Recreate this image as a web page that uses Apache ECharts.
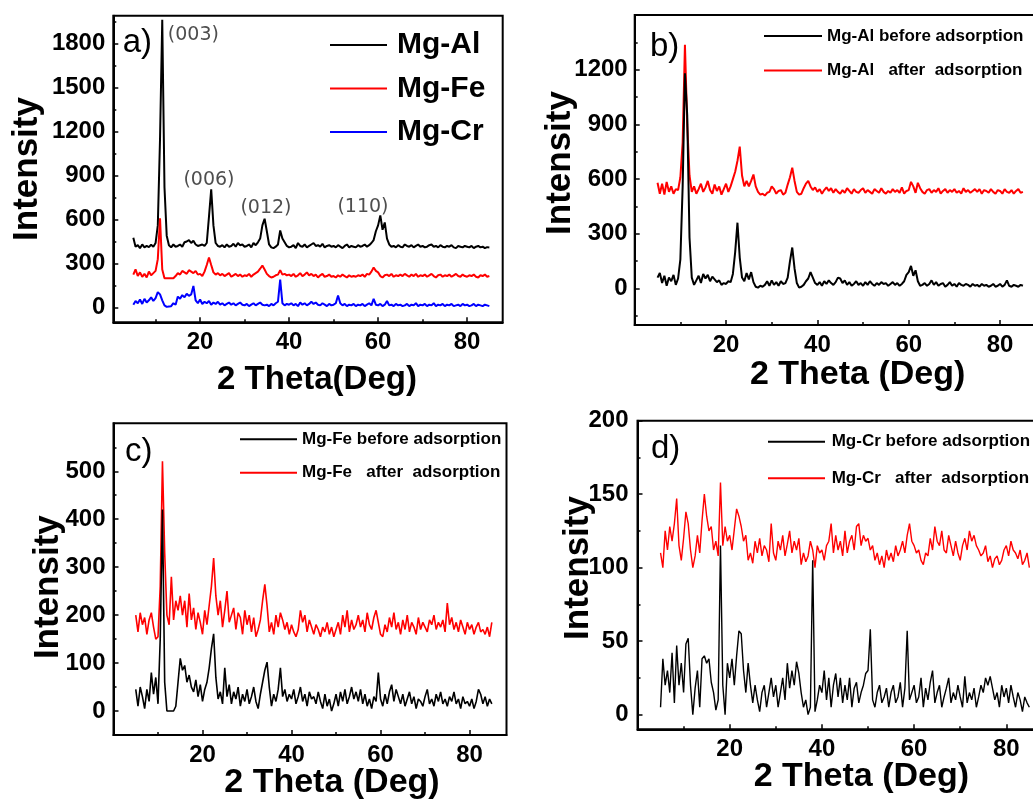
<!DOCTYPE html>
<html>
<head>
<meta charset="utf-8">
<script src="https://cdn.jsdelivr.net/npm/echarts@6/dist/echarts.min.js"></script>
<style>
html,body{margin:0;padding:0;background:#fff;}
#c{width:1033px;height:800px;}
</style>
</head>
<body>
<div id="c"></div>
<script>
// ---------- DATA ----------
const twoTheta = [
5,5.5,6,6.5,7,7.5,8,8.5,9,9.5,
10,10.5,11,11.5,12,12.5,13,13.5,14,14.5,
15,15.5,16,16.5,17,17.5,18,18.5,19,19.5,
20,20.5,21,21.5,22,22.5,23,23.5,24,24.5,
25,25.5,26,26.5,27,27.5,28,28.5,29,29.5,
30,30.5,31,31.5,32,32.5,33,33.5,34,34.5,
35,35.5,36,36.5,37,37.5,38,38.5,39,39.5,
40,40.5,41,41.5,42,42.5,43,43.5,44,44.5,
45,45.5,46,46.5,47,47.5,48,48.5,49,49.5,
50,50.5,51,51.5,52,52.5,53,53.5,54,54.5,
55,55.5,56,56.5,57,57.5,58,58.5,59,59.5,
60,60.5,61,61.5,62,62.5,63,63.5,64,64.5,
65,65.5,66,66.5,67,67.5,68,68.5,69,69.5,
70,70.5,71,71.5,72,72.5,73,73.5,74,74.5,
75,75.5,76,76.5,77,77.5,78,78.5,79,79.5,
80,80.5,81,81.5,82,82.5,83,83.5,84,84.5,
85];

// panel a
const aMgAl = [
475,415,425,405,430,410,420,412,428,415,
440,560,1150,1960,820,490,425,410,430,415,
420,430,415,445,450,460,440,455,430,420,
425,430,420,440,620,805,560,440,420,415,
425,410,430,415,420,435,415,440,425,430,
415,420,430,410,440,425,445,470,560,605,
520,430,410,405,415,430,525,470,445,420,
410,415,425,405,440,420,415,430,410,420,
430,440,420,425,415,435,410,420,425,415,
420,410,425,415,405,420,430,410,420,415,
410,425,415,420,430,415,425,440,460,520,
560,628,530,580,470,430,415,420,410,425,
415,410,430,420,415,425,410,420,430,415,
420,410,415,425,430,415,420,410,425,415,
410,420,415,425,410,405,420,415,410,420,
415,410,420,405,415,420,410,415,405,412,
410];
const aMgFe = [
225,260,215,240,210,230,205,245,220,235,
250,330,609,260,200,200,200,200,200,215,
235,225,250,240,230,255,245,235,250,225,
230,215,245,290,341,290,240,225,235,220,
230,215,225,235,210,220,230,215,225,210,
220,215,230,210,225,235,245,265,287,260,
230,215,205,210,220,225,255,225,230,220,
225,215,230,210,220,235,215,225,240,220,
230,215,225,205,220,230,210,215,225,210,
215,205,220,210,225,215,205,220,210,215,
210,220,215,225,210,230,225,245,273,250,
240,215,205,220,225,215,230,210,220,215,
225,215,230,220,210,225,215,230,210,220,
215,225,210,220,230,215,205,220,225,210,
220,215,225,210,220,230,215,210,225,215,
210,220,215,225,210,205,220,215,225,210,
215];
const aMgCr = [
20,45,30,55,25,60,35,50,70,45,
65,105,90,50,15,5,8,10,30,20,
75,60,85,70,95,80,90,148,50,30,
55,25,40,30,45,20,35,25,40,20,
30,15,25,35,20,30,15,25,35,20,
15,25,10,20,30,15,25,35,20,15,
20,10,25,15,30,40,191,30,15,25,
20,30,15,25,10,35,20,30,15,25,
40,25,35,20,15,30,20,10,25,15,
20,30,82,30,15,25,10,20,15,25,
10,20,15,25,10,20,30,15,60,20,
15,25,10,20,45,15,20,10,25,15,
20,10,15,25,10,20,15,30,10,20,
15,25,10,20,15,30,10,20,15,25,
10,20,15,25,10,15,20,10,25,15,
20,10,15,25,10,20,15,10,20,15,
10];
const hklLabels = ['(003)','(006)','(012)','(110)'];
const hklX = [18.5, 22.0, 34.8, 56.6];
const hklY = [1856, 868, 679, 688];

// panel b
const bBefore = [
60,85,30,70,15,60,40,75,20,55,
160,560,1180,950,280,60,20,45,70,30,
80,55,75,40,65,50,35,45,20,30,
25,40,35,80,200,361,170,60,40,85,
50,90,35,10,5,15,10,20,40,15,
45,20,35,15,40,25,30,60,150,225,
110,30,5,10,20,40,55,90,60,30,
20,35,15,40,25,45,30,20,35,60,
55,30,45,20,35,15,25,40,20,30,
15,35,20,40,25,15,30,20,35,25,
30,15,25,35,20,30,15,25,40,75,
90,124,70,100,40,15,20,30,15,25,
45,20,35,15,25,30,10,20,35,15,
25,10,30,20,15,25,20,10,25,15,
20,10,25,15,20,10,15,25,10,15,
25,10,20,45,15,10,20,15,10,20,
15];
const bAfter = [
580,520,575,515,585,530,560,520,545,540,
610,800,1337,900,620,530,560,520,545,575,
530,555,590,540,520,570,535,560,515,545,
575,530,560,600,640,700,778,620,560,590,
560,590,625,560,530,515,520,510,525,530,
560,545,520,535,540,515,525,570,610,663,
590,530,515,520,550,575,590,560,540,555,
530,545,520,540,555,535,550,525,545,530,
520,540,525,550,535,520,545,530,525,540,
550,525,540,530,520,545,535,525,550,530,
520,535,525,545,530,540,525,555,520,535,
540,585,560,525,580,550,530,520,540,545,
525,540,530,550,520,535,545,525,540,530,
545,525,535,520,550,530,540,525,535,545,
530,545,520,540,535,525,545,530,520,540,
535,520,545,530,525,540,520,535,545,525,
530];

// panel c
const cBefore = [
45,10,50,30,5,45,20,80,35,70,
15,150,420,60,0,0,0,0,10,60,
110,85,95,60,75,50,40,65,30,55,
20,45,60,90,130,161,70,25,40,15,
90,30,55,15,40,25,50,10,35,20,
45,15,30,50,20,5,35,60,85,102,
50,10,35,20,45,90,30,45,20,35,
25,45,15,30,50,20,35,10,40,25,
30,15,40,20,5,35,10,25,0,15,
35,10,40,20,45,15,30,50,25,40,
20,45,15,35,10,25,5,30,20,80,
25,10,35,15,40,55,20,45,30,15,
35,10,25,40,15,30,5,25,20,10,
30,45,15,25,10,35,20,40,15,25,
10,30,20,40,15,25,5,30,15,20,
10,25,5,20,45,35,15,30,10,25,
15];
const cAfter = [
200,165,205,180,195,160,190,205,175,150,
155,260,521,330,200,180,280,190,230,210,
240,200,230,175,245,190,215,170,205,185,
160,210,180,220,260,319,240,200,230,175,
210,250,185,200,215,170,205,195,160,210,
180,200,165,195,155,170,190,230,264,220,
165,185,160,200,175,205,190,170,185,160,
180,165,155,170,210,185,200,165,190,175,
160,180,170,155,175,165,185,160,175,155,
170,185,160,200,175,210,165,190,170,180,
200,175,190,165,205,180,170,195,210,185,
160,155,180,165,195,175,205,170,185,160,
190,170,200,165,185,175,160,195,170,185,
175,165,190,180,200,170,185,175,190,165,
225,180,195,170,185,165,190,175,160,185,
170,180,160,175,185,165,170,160,175,155,
185];

// panel d
const dBefore = [
5,38,20,30,15,42,8,47,20,35,
15,48,52,20,0,18,30,5,38,40,
35,38,22,15,3,10,115,20,0,35,
25,38,20,40,57,55,30,15,35,20,
8,20,10,2,15,20,5,15,25,12,
20,5,15,25,10,35,18,30,20,36,
28,15,5,10,0,5,105,2,10,20,
15,30,10,25,5,20,28,12,25,8,
20,10,25,5,18,22,8,15,20,28,
30,58,10,5,15,20,8,12,18,5,
15,20,8,12,22,5,18,57,10,15,
20,8,12,25,5,18,10,22,30,8,
15,20,5,12,18,25,8,15,10,20,
12,5,26,8,15,10,18,5,12,20,
15,25,20,26,18,10,15,5,20,12,
18,8,20,12,5,15,10,2,12,8,
5];
const dAfter = [
110,100,125,112,128,118,130,147,115,105,
120,138,130,112,100,108,122,110,132,150,
135,125,128,112,118,108,158,115,128,118,
122,112,126,140,135,128,118,122,105,110,
103,118,110,120,108,115,112,104,130,110,
105,118,112,122,108,116,125,110,118,112,
120,102,110,104,108,118,112,100,115,110,
112,105,115,118,130,110,122,112,118,108,
125,110,118,122,112,128,130,115,122,118,
120,112,115,105,110,102,108,100,112,105,
110,104,115,108,112,118,110,122,130,118,
115,110,112,105,102,110,108,120,112,128,
118,115,125,112,110,122,115,108,118,110,
105,115,120,112,125,118,122,115,112,108,
110,115,104,108,100,106,108,102,105,112,
115,108,118,112,110,106,112,102,105,110,
100];

// tick labels
const xMajor = [20,40,60,80];
const xMinor = [10,30,50,70];
const aYMajor = [0,300,600,900,1200,1500,1800];
const aYMinor = [150,450,750,1050,1350,1650,1950];
const bYMajor = [0,300,600,900,1200];
const bYMinor = [-150,150,450,750,1050,1350];
const cYMajor = [0,100,200,300,400,500];
const cYMinor = [50,150,250,350,450,550];
const dYMajor = [0,50,100,150,200];
const dYMinor = [25,75,125,175];

// ---------- CHART ----------
const FONT = '"Liberation Sans", Arial, sans-serif';
const pts = ys => twoTheta.map((x, i) => [x, ys[i]]);
const plain = v => String(v);

const panels = [
  {grid:{left:113.3, top:15.7, width:389.4, height:306.6}, xr:[0.5,88], yr:[-100,1988],
   yMajor:aYMajor, yMinor:aYMinor, yGap:85.8, yPad:[0,0,0,0], xName:'2 Theta(Deg)', xGap:57.7, xPad:[0,0,0,18], xSize:33, yLM:8},
  {grid:{left:634.7, top:15, width:401.9, height:310}, xr:[0,88], yr:[-200,1500],
   yMajor:bYMajor, yMinor:bYMinor, yGap:74.2, yPad:[0,0,0,14], xName:'2 Theta (Deg)', xGap:50, xPad:[0,0,0,44], xSize:34, yLM:7},
  {grid:{left:113.5, top:423.3, width:393, height:311.7}, xr:[0,88.3], yr:[-50,600],
   yMajor:cYMajor, yMinor:cYMinor, yGap:65.5, yPad:[0,16,0,0], xName:'2 Theta (Deg)', xGap:47.5, xPad:[0,0,0,44], xSize:34, yLM:8},
  {grid:{left:637.5, top:420.7, width:405.7, height:308.6}, xr:[0,88], yr:[-10,200],
   yMajor:dYMajor, yMinor:dYMinor, yGap:59.5, yPad:[0,0,0,14], xName:'2 Theta (Deg)', xGap:47.4, xPad:[0,0,0,42], xSize:34, yLM:9}
];

const grids = [], xAxes = [], yAxes = [];
panels.forEach((p, i) => {
  grids.push(Object.assign({}, p.grid, {show:true, borderColor:'#000', borderWidth:2,
    backgroundColor:'rgba(0,0,0,0)', containLabel:false, outerBoundsMode:'none'}));
  xAxes.push({type:'value', gridIndex:i, min:p.xr[0], max:p.xr[1], position:'bottom',
    axisLine:{show:true, onZero:false, lineStyle:{color:'#000', width:2}},
    axisTick:{show:true, inside:true, length:5, lineStyle:{color:'#000', width:1.5}, customValues:xMajor},
    axisLabel:{show:true, customValues:xMajor, formatter:plain, margin:8, fontSize:24, fontWeight:'bold', fontFamily:FONT, color:'#000'},
    splitLine:{show:false},
    name:p.xName, nameLocation:'middle', nameGap:p.xGap, nameMoveOverlap:false,
    nameTextStyle:{fontSize:p.xSize, fontWeight:'bold', fontFamily:FONT, color:'#000',
      align:'center', verticalAlign:'middle', padding:p.xPad}});
  xAxes.push({type:'value', gridIndex:i, min:p.xr[0], max:p.xr[1], position:'bottom',
    axisLine:{show:false, onZero:false},
    axisTick:{show:true, inside:true, length:3, lineStyle:{color:'#000', width:1.5}, customValues:xMinor},
    axisLabel:{show:false}, splitLine:{show:false}});
  yAxes.push({type:'value', gridIndex:i, min:p.yr[0], max:p.yr[1], position:'left',
    axisLine:{show:true, onZero:false, lineStyle:{color:'#000', width:2}},
    axisTick:{show:true, inside:true, length:5, lineStyle:{color:'#000', width:1.5}, customValues:p.yMajor},
    axisLabel:{show:true, customValues:p.yMajor, formatter:plain, margin:p.yLM, fontSize:24, fontWeight:'bold', fontFamily:FONT, color:'#000'},
    splitLine:{show:false},
    name:'Intensity', nameLocation:'middle', nameGap:p.yGap, nameMoveOverlap:false,
    nameTextStyle:{fontSize:35, fontWeight:'bold', fontFamily:FONT, color:'#000',
      align:'center', verticalAlign:'middle', padding:p.yPad}});
  yAxes.push({type:'value', gridIndex:i, min:p.yr[0], max:p.yr[1], position:'left',
    axisLine:{show:false, onZero:false},
    axisTick:{show:true, inside:true, length:3, lineStyle:{color:'#000', width:1.5}, customValues:p.yMinor},
    axisLabel:{show:false}, splitLine:{show:false}});
});

function line(panel, name, ys, color, width) {
  return {type:'line', name:name, xAxisIndex:2*panel, yAxisIndex:2*panel, data:pts(ys),
    showSymbol:false, symbol:'none', lineStyle:{color:color, width:width}, itemStyle:{color:color},
    emphasis:{disabled:true}, silent:true, animation:false};
}

const BLACK = '#000000', RED = '#ff0000', BLUE = '#0000ff';
const series = [
  line(0, 'Mg-Al', aMgAl, BLACK, 2),
  line(0, 'Mg-Fe', aMgFe, RED, 2),
  line(0, 'Mg-Cr', aMgCr, BLUE, 2),
  {type:'scatter', name:'hkl', xAxisIndex:0, yAxisIndex:0,
   data:hklX.map((x, k) => [x, hklY[k], hklLabels[k]]),
   symbolSize:1, itemStyle:{color:'rgba(0,0,0,0)'}, silent:true, animation:false,
   label:{show:true, position:'inside', formatter:p => p.data[2],
     fontFamily:'"DejaVu Sans", sans-serif', fontSize:19, color:'#222'}},
  line(1, 'Mg-Al   after  adsorption', bAfter, RED, 2),
  line(1, 'Mg-Al before adsorption', bBefore, BLACK, 2),
  line(2, 'Mg-Fe   after  adsorption', cAfter, RED, 1.6),
  line(2, 'Mg-Fe before adsorption', cBefore, BLACK, 1.6),
  line(3, 'Mg-Cr   after  adsorption', dAfter, RED, 1.4),
  line(3, 'Mg-Cr before adsorption', dBefore, BLACK, 1.4)
];

function legend(left, top, gap, w, size, names, textGap) {
  return {show:true, left:left, top:top, orient:'vertical', padding:0, itemGap:gap,
    itemWidth:w, itemHeight:2, icon:'rect', data:names, selectedMode:false,
    textStyle:{fontSize:size, lineHeight:size, fontWeight:'bold', fontFamily:FONT, color:'#000',
      padding:[0,0,0,textGap]}};
}

const legends = [
  legend(330, 30, 13.5, 57, 30, ['Mg-Al','Mg-Fe','Mg-Cr'], 5),
  legend(764, 27.5, 17.5, 58, 17, ['Mg-Al before adsorption','Mg-Al   after  adsorption'], 0),
  legend(240, 430.8, 16.4, 57, 17, ['Mg-Fe before adsorption','Mg-Fe   after  adsorption'], 0),
  legend(768, 433.2, 19.6, 57, 17, ['Mg-Cr before adsorption','Mg-Cr   after  adsorption'], 1.7)
];

function tag(text, x, y) {
  return {type:'text', x:x, y:y, silent:true,
    style:{text:text, fontSize:33, fontFamily:FONT, fill:'#000', align:'left', verticalAlign:'middle'}};
}

const chart = echarts.init(document.getElementById('c'), null, {renderer:'canvas', width:1033, height:800});
chart.setOption({
  backgroundColor:'#ffffff',
  animation:false,
  grid:grids, xAxis:xAxes, yAxis:yAxes,
  legend:legends,
  series:series,
  graphic:[tag('a)',122.7,42.5), tag('b)',650,46.7), tag('c)',125,451.7), tag('d)',651,449)]
});
</script>
</body>
</html>
